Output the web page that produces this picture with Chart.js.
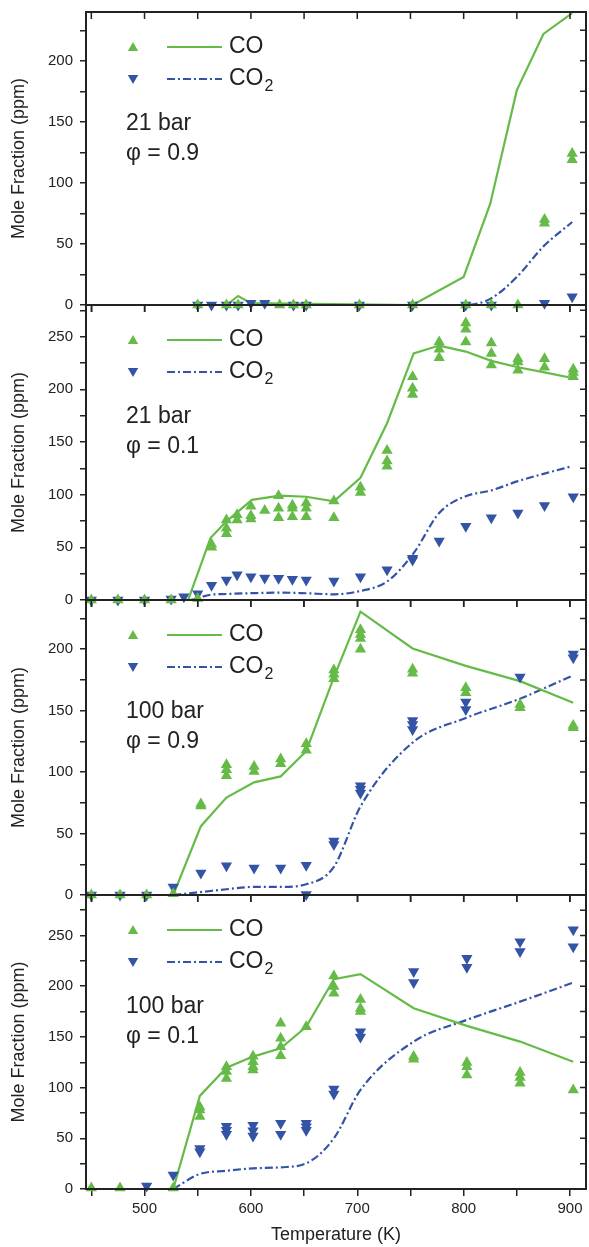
<!DOCTYPE html>
<html>
<head>
<meta charset="utf-8">
<script src="https://cdn.jsdelivr.net/npm/chart.js@4.4.1/dist/chart.umd.min.js"></script>
<style>
  html, body { margin: 0; padding: 0; background: #fff; }
  #wrap { position: relative; width: 589px; height: 1247px; overflow: hidden; }
  #wrap canvas { position: absolute; left: 0; }
</style>
</head>
<body>
<div id="wrap">
  <canvas id="p1"></canvas>
  <canvas id="p2"></canvas>
  <canvas id="p3"></canvas>
  <canvas id="p4"></canvas>
</div>
<script>
// measured points: [temperature, value, value, ...]
// panel 1 : 21 bar, phi = 0.9
const p1CoExp = [[550, 0], [577, 0], [588, 0], [627, 0], [640, 0], [652, 0], [702, 0], [752, 0],
  [802, 0], [826, 0], [851, 0], [876, 70, 67], [902, 124, 119]];
const p1Co2Exp = [[550, 0], [563, 0], [577, 0], [588, 0], [600, 1.5], [613, 1.5], [640, 0], [652, 0],
  [702, 0], [752, 0], [802, 0], [826, 0], [876, 1.5], [902, 6.8]];
const p1ModelT = [550, 577, 588, 600, 752, 800, 825, 850, 875, 902];
const p1CoModel = [0, 0, 7.4, 1.5, 0, 23, 83, 176, 222, 239];
const p1Co2Model = [0, 0, 0, 0, 0, 0, 5, 23, 48, 68];

// panel 2 : 21 bar, phi = 0.1
const p2CoExp = [[450, 0], [475, 0], [500, 0], [525, 0], [550, 1.5], [563, 53, 50], [577, 76, 68, 63],
  [587, 81, 76], [600, 89, 80, 77], [613, 85], [626, 99, 87, 78], [639, 90, 87, 79], [652, 92, 87, 79],
  [678, 94, 78], [703, 107, 102], [728, 142, 132, 127], [752, 212, 201, 195], [777, 245, 238, 230],
  [802, 263, 257, 245], [826, 244, 234, 223], [851, 229, 226, 218], [876, 229, 221], [903, 219, 216, 212]];
const p2Co2Exp = [[450, 0], [475, 0], [500, 0], [525, 1], [537, 3], [550, 6], [563, 14], [577, 19],
  [587, 24], [600, 22], [613, 21], [626, 20.7], [639, 19.7], [652, 19], [678, 18], [703, 22],
  [728, 28.6], [752, 39.7, 38], [777, 56], [802, 70], [826, 78], [851, 82.6], [876, 89.6], [903, 98]];
const p2ModelT = [525, 541, 562, 577, 601, 627, 652, 678, 703, 728, 753, 777, 802, 826, 851, 876, 902];
const p2CoModel = [0, 0, 58.8, 74.7, 95, 99, 98, 93.7, 116, 167.8, 234, 241.5, 235.8, 227, 220.9, 216, 210.7];
const p2Co2Model = [0, 0, 5, 5.7, 6.5, 7, 6.4, 5.4, 8.6, 17.5, 44.5, 82.6, 98.5, 104, 112.8, 120, 127];

// panel 3 : 100 bar, phi = 0.9
const p3CoExp = [[450, 0], [477, 0], [502, 0], [527, 1], [553, 74, 72.5], [577, 106, 102, 97],
  [603, 104.6, 100.5], [628, 110.6, 106.8], [652, 123, 117.7], [678, 183, 179.6, 176],
  [703, 215.8, 212, 208.7, 200], [752, 183.6, 180.4], [802, 168.7, 164.6], [853, 155, 152.4], [903, 138, 136]];
const p3Co2Exp = [[450, 0], [477, 0], [502, 0], [527, 6.5], [553, 18], [577, 23.7], [603, 22], [628, 22],
  [652, 24.3, 0.5], [678, 44, 41], [703, 88.8, 86, 83], [752, 142, 138.7, 134.6], [802, 157, 151],
  [853, 177.4], [903, 196, 193]];
const p3ModelT = [527, 553, 577, 603, 628, 652, 678, 703, 752, 802, 853, 903];
const p3CoModel = [0, 56, 79.3, 91.6, 96.5, 117, 177, 230.5, 200.6, 186.4, 174, 156.4];
const p3Co2Model = [0, 2.4, 4.7, 6.6, 6.6, 8.7, 22.9, 72, 124, 144, 159.7, 178.8];

// panel 4 : 100 bar, phi = 0.1
const p4CoExp = [[450, 1], [477, 1], [527, 1], [552, 81, 78, 71.4], [577, 120.7, 115.8, 109],
  [602, 131, 125.6, 120.7, 117.4], [628, 163.5, 148.7, 140.4, 131.5], [652, 160], [678, 210, 199.7, 193],
  [703, 187, 178, 175], [753, 130.6, 128], [803, 124.7, 120.7, 112.5], [853, 114.8, 110, 104.3], [903, 97.7]];
const p4Co2Exp = [[502, 3], [527, 13.8], [552, 40, 36.8], [577, 62, 58, 54], [602, 63, 57.5, 52.3],
  [628, 64.8, 54], [652, 64.8, 61.5, 58], [678, 98.7, 93.7], [703, 155, 150], [753, 214.5, 203.6],
  [803, 227.7, 218.8], [853, 244, 234.2], [903, 255.6, 239]];
const p4ModelT = [527, 552, 577, 602, 628, 652, 678, 703, 753, 803, 853, 903];
const p4CoModel = [0, 91.8, 119.7, 130.6, 138.8, 160, 207, 212, 178.3, 160.9, 145.4, 125.6];
const p4Co2Model = [0, 14.8, 18, 20.4, 21.4, 25.3, 50, 97.7, 145.4, 166.8, 184.8, 203.6];

const xMin = 445, xMax = 915;
const yMaxes = [240, 280, 240, 290];
const pressures = ['21 bar', '21 bar', '100 bar', '100 bar'];
const phis = ['φ = 0.9', 'φ = 0.1', 'φ = 0.9', 'φ = 0.1'];

const GREEN = '#66bb48';
const BLUE = '#3353a5';
const INK = '#222';
const DASHDOT = [8, 3, 2, 3];

Chart.defaults.font.family = "'Liberation Sans', Arial, sans-serif";
Chart.defaults.color = INK;

const panels = [
  { id: 'p1', top: 12, bottom: 305, coExp: p1CoExp, co2Exp: p1Co2Exp, t: p1ModelT, co: p1CoModel, co2: p1Co2Model },
  { id: 'p2', top: 305, bottom: 600, coExp: p2CoExp, co2Exp: p2Co2Exp, t: p2ModelT, co: p2CoModel, co2: p2Co2Model },
  { id: 'p3', top: 600, bottom: 895, coExp: p3CoExp, co2Exp: p3Co2Exp, t: p3ModelT, co: p3CoModel, co2: p3Co2Model },
  { id: 'p4', top: 895, bottom: 1189, coExp: p4CoExp, co2Exp: p4Co2Exp, t: p4ModelT, co: p4CoModel, co2: p4Co2Model }
];

function expPoints(groups) {
  const pts = [];
  groups.forEach(g => g.slice(1).forEach(v => pts.push({ x: g[0], y: v })));
  return pts;
}
function modelPoints(t, vals) {
  return t.map((x, i) => ({ x: x, y: vals[i] }));
}

function triangle(ctx, x, y, r, down, color) {
  const s = down ? -1 : 1;
  ctx.beginPath();
  ctx.moveTo(x, y - s * r);
  ctx.lineTo(x + r * 0.866, y + s * r * 0.5);
  ctx.lineTo(x - r * 0.866, y + s * r * 0.5);
  ctx.closePath();
  ctx.fillStyle = color;
  ctx.fill();
}

// frame, inward ticks on top/right, legend and condition labels
const framePlugin = {
  id: 'frame',
  afterDraw(chart, args, opts) {
    const { ctx, chartArea: a, scales } = chart;
    ctx.save();
    ctx.strokeStyle = INK;
    ctx.lineWidth = 1.5;
    ctx.beginPath();
    for (let v = 450; v <= 900; v += 50) {
      const px = scales.x.getPixelForValue(v);
      ctx.moveTo(px, a.top); ctx.lineTo(px, a.top + 7);
    }
    for (let v = 25; v < scales.y.max; v += 25) {
      const py = scales.y.getPixelForValue(v);
      ctx.moveTo(a.right, py); ctx.lineTo(a.right - 6, py);
    }
    ctx.stroke();
    ctx.lineWidth = 2;
    ctx.strokeRect(a.left, a.top, a.right - a.left, a.bottom - a.top);

    // legend
    const rows = [
      { y: a.top + 35, color: GREEN, down: false, dash: [] },
      { y: a.top + 67, color: BLUE, down: true, dash: DASHDOT }
    ];
    rows.forEach((r, i) => {
      triangle(ctx, 133, r.y + (r.down ? -1 : 1), 6, r.down, r.color);
      ctx.strokeStyle = r.color;
      ctx.lineWidth = 2;
      ctx.setLineDash(r.dash);
      ctx.beginPath();
      ctx.moveTo(167, r.y); ctx.lineTo(222, r.y);
      ctx.stroke();
      ctx.setLineDash([]);
      ctx.fillStyle = INK;
      ctx.textBaseline = 'middle';
      ctx.textAlign = 'left';
      ctx.font = "23px 'Liberation Sans', Arial, sans-serif";
      ctx.fillText('CO', 229, r.y);
      if (i === 1) {
        const w = ctx.measureText('CO').width;
        ctx.font = "16px 'Liberation Sans', Arial, sans-serif";
        ctx.fillText('2', 229 + w + 1, r.y + 8);
      }
    });
    ctx.font = "23px 'Liberation Sans', Arial, sans-serif";
    ctx.fillStyle = INK;
    ctx.textBaseline = 'middle';
    ctx.fillText(opts.pressure, 126, a.top + 112);
    ctx.fillText(opts.phi, 126, a.top + 142);
    ctx.restore();
  }
};

const PAD_TOP = 10;

panels.forEach((p, i) => {
  const isLast = i === panels.length - 1;
  const xH = isLast ? 1247 - p.bottom : 8;
  const canvas = document.getElementById(p.id);
  canvas.width = 589;
  canvas.height = PAD_TOP + (p.bottom - p.top) + xH;
  canvas.style.top = (p.top - PAD_TOP) + 'px';

  new Chart(canvas, {
    type: 'scatter',
    data: {
      datasets: [
        {
          label: 'CO exp', data: expPoints(p.coExp), pointStyle: 'triangle', pointRadius: 6.5,
          backgroundColor: GREEN, borderColor: GREEN, pointBorderWidth: 0, clip: false
        },
        {
          label: 'CO2 exp', data: expPoints(p.co2Exp), pointStyle: 'triangle', pointRotation: 180, pointRadius: 6.5,
          backgroundColor: BLUE, borderColor: BLUE, pointBorderWidth: 0, clip: false
        },
        {
          label: 'CO model', data: modelPoints(p.t, p.co), showLine: true, pointRadius: 0,
          borderColor: GREEN, borderWidth: 2.2
        },
        {
          label: 'CO2 model', data: modelPoints(p.t, p.co2), showLine: true, pointRadius: 0,
          borderColor: BLUE, borderWidth: 2.2, borderDash: DASHDOT, cubicInterpolationMode: 'monotone'
        }
      ]
    },
    options: {
      responsive: false,
      animation: false,
      events: [],
      layout: { autoPadding: false, padding: { top: PAD_TOP, left: 4, right: 3, bottom: 0 } },
      plugins: {
        legend: { display: false },
        tooltip: { enabled: false },
        frame: { pressure: pressures[i], phi: phis[i] }
      },
      scales: {
        x: {
          type: 'linear', min: xMin, max: xMax,
          afterFit: s => { s.height = xH; s.paddingRight = 0; s.paddingLeft = 0; },
          border: { display: false },
          grid: { drawOnChartArea: false, tickLength: 7, color: INK, lineWidth: 1.5 },
          ticks: {
            stepSize: 50, includeBounds: false, autoSkip: false, maxRotation: 0, padding: 4,
            color: INK, font: { size: 15 },
            callback: v => (isLast && v % 100 === 0) ? String(v) : ''
          },
          title: {
            display: isLast, text: 'Temperature (K)', color: INK,
            font: { size: 18 }, padding: { top: 0, bottom: 1 }
          }
        },
        y: {
          min: 0, max: yMaxes[i],
          afterFit: s => { s.width = 82; s.paddingTop = 0; s.paddingBottom = 0; },
          border: { display: false },
          grid: { drawOnChartArea: false, tickLength: 6, color: INK, lineWidth: 1.5 },
          ticks: {
            stepSize: 25, includeBounds: false, autoSkip: false, padding: 7,
            color: INK, font: { size: 15 },
            callback: v => v % 50 === 0 ? String(v) : ''
          },
          title: {
            display: true, text: 'Mole Fraction (ppm)', color: INK,
            font: { size: 18 }, padding: { top: 4, bottom: 0 }
          }
        }
      }
    },
    plugins: [framePlugin]
  });
});
</script>
</body>
</html>
